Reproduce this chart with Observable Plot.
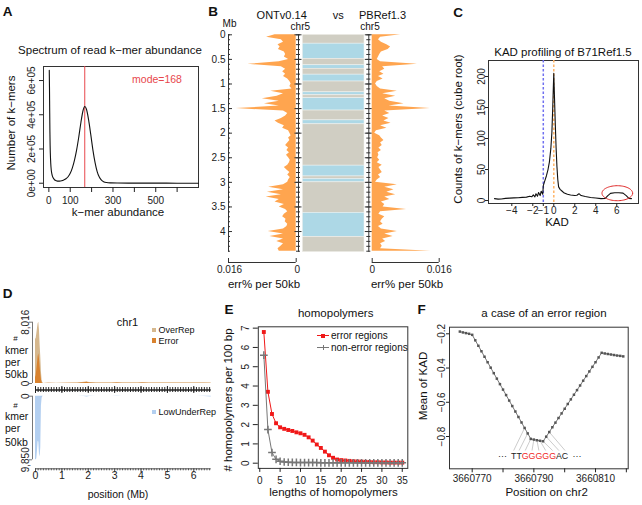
<!DOCTYPE html>
<html><head><meta charset="utf-8">
<script src="https://cdn.jsdelivr.net/npm/d3@7"></script>
<script src="https://cdn.jsdelivr.net/npm/@observablehq/plot@0.6"></script>
<style>
body{margin:0;background:#fff;}
#fig{position:relative;width:642px;height:505px;overflow:hidden;font-family:"Liberation Sans",Arial,sans-serif;color:#111;}
#fig svg.plotsvg{position:absolute;left:0;top:0;}
.t{position:absolute;white-space:nowrap;line-height:1;}
</style></head><body><div id="fig"></div>
<script>
// ================= DATA =================
// A: k-mer spectrum
const spectrumAbundance = [2,3,4,5,6,8,10,13,16,20,25,30,40,50,60,70,80,90,100,110,120,130,140,150,160,168,176,186,196,206,216,226,236,246,256,270,290,320,400,500,600,700];
const spectrumCount = [660000,560000,420000,300000,220000,140000,95000,62000,45000,32000,23000,17000,12500,12000,14000,19000,26000,38000,58000,90000,135000,195000,270000,355000,425000,448000,432000,370000,285000,195000,122000,68000,36000,18000,9000,4000,2000,1000,700,400,200,100];
const spectrumMode = 168;
const aXTicks = [0,100,200,300,400,500,600];
const aXLabeled = [0,100,300,500];
const aYTicks = [0,200000,400000,600000];

// B: error profiles along chr5 (50 kb bins)
const bBinMb = [0,0.05,0.1,0.15,0.2,0.25,0.3,0.35,0.4,0.45,0.5,0.55,0.6,0.65,0.7,0.75,0.8,0.85,0.9,0.95,1,1.05,1.1,1.15,1.2,1.25,1.3,1.35,1.4,1.45,1.5,1.55,1.6,1.65,1.7,1.75,1.8,1.85,1.9,1.95,2,2.05,2.1,2.15,2.2,2.25,2.3,2.35,2.4,2.45,2.5,2.55,2.6,2.65,2.7,2.75,2.8,2.85,2.9,2.95,3,3.05,3.1,3.15,3.2,3.25,3.3,3.35,3.4,3.45,3.5,3.55,3.6,3.65,3.7,3.75,3.8,3.85,3.9,3.95,4,4.05,4.1,4.15,4.2,4.25,4.3,4.35,4.4];
const ontErr = [0.0050,0.0070,0.0035,0.0030,0.0043,0.0038,0.0042,0.0028,0.0025,0.0028,
0.0018,0.0040,0.0114,0.0035,0.0025,0.0032,0.0025,0.0030,0.0020,0.0015,
0.0012,0.0015,0.0010,0.0060,0.0030,0.0045,0.0080,0.0040,0.0075,0.0040,
0.0142,0.0030,0.0020,0.0025,0.0035,0.0050,0.0042,0.0028,0.0032,0.0018,
0.0015,0.0012,0.0018,0.0015,0.0020,0.0025,0.0018,0.0022,0.0016,0.0023,
0.0018,0.0014,0.0016,0.0020,0.0028,0.0022,0.0015,0.0020,0.0014,0.0018,
0.0020,0.0030,0.0065,0.0030,0.0068,0.0035,0.0071,0.0040,0.0050,0.0028,
0.0040,0.0025,0.0020,0.0028,0.0032,0.0024,0.0026,0.0020,0.0022,0.0030,
0.0066,0.0030,0.0062,0.0030,0.0046,0.0030,0.0036,0.0043,0.0040];
const pbErr = [0.0068,0.0020,0.0015,0.0022,0.0035,0.0044,0.0038,0.0022,0.0018,0.0015,
0.0012,0.0020,0.0108,0.0025,0.0030,0.0018,0.0028,0.0015,0.0026,0.0012,
0.0008,0.0012,0.0020,0.0060,0.0025,0.0056,0.0030,0.0042,0.0076,0.0040,
0.0139,0.0030,0.0042,0.0025,0.0040,0.0028,0.0045,0.0020,0.0035,0.0010,
0.0006,0.0018,0.0022,0.0028,0.0020,0.0024,0.0016,0.0022,0.0014,0.0016,
0.0013,0.0018,0.0012,0.0024,0.0016,0.0020,0.0024,0.0015,0.0020,0.0012,
0.0008,0.0060,0.0030,0.0052,0.0035,0.0056,0.0030,0.0042,0.0022,0.0030,
0.0026,0.0082,0.0020,0.0016,0.0030,0.0024,0.0020,0.0026,0.0015,0.0022,
0.0060,0.0030,0.0050,0.0025,0.0032,0.0020,0.0024,0.0020,0.0140];
const chrLen = 4.42;
const errMax = 0.016;
const chrStart = [0,0.18,0.49,0.62,0.69,0.81,0.95,1.17,1.23,1.29,1.54,1.74,1.82,2.66,2.88,2.93,3.00,3.62,4.11];
const chrEnd   = [0.18,0.49,0.62,0.69,0.81,0.95,1.17,1.23,1.29,1.54,1.74,1.82,2.66,2.88,2.93,3.00,3.62,4.11,4.42];
const chrClass = ["gray","blue","gray","blue","gray","blue","gray","blue","gray","blue","gray","blue","gray","blue","gray","blue","gray","blue","gray"];
const mbMajor = [0,0.5,1,1.5,2,2.5,3,3.5,4];

// C: KAD profile
const kadX = [-5.65,-5.3,-5.0,-4.6,-4.2,-3.8,-3.4,-3.0,-2.6,-2.3,-2.1,-1.95,-1.8,-1.7,-1.55,-1.45,-1.3,-1.2,-1.05,-1.0,-0.85,-0.7,-0.55,-0.42,-0.28,-0.18,-0.1,-0.03,0.0,0.06,0.14,0.22,0.3,0.38,0.46,0.6,0.8,1.0,1.3,1.6,2.0,2.2,2.4,2.6,3.0,3.5,4.0,4.5,4.9,5.15,5.4,5.8,6.2,6.6,6.9,7.15,7.4];
const kadY = [3,2.2,2.5,3.5,3.8,4.2,4.5,5,5.5,7,6,9,6,11,7,13,8,15,10,24,32,40,50,62,84,110,150,190,205,170,125,85,55,34,22,18,15,12,10,9,8,8.5,11,8,6.5,5,4,3,3.5,8,11.5,12.5,12.5,12,8,3.5,3];
const cXTicks = [-4,-2,-1,0,2,4,6];
const cYTicks = [0,50,100,150,200];
const kadLower = -1, kadCenter = 0;
const cEllipse = {cx: 6.05, cy: 11.8, rx: 1.46, ry: 12.1};

// D: chr1 k-mer counts per 50kb
const dPos = [0,0.025,0.05,0.075,0.1,0.125,0.15,0.175,0.2,0.225,0.25,0.275,0.3,0.5,0.8,1.2,1.6,1.85,1.95,2.05,2.3,2.6,2.9,3.1,3.3,3.6,3.9,4.05,4.3,4.6,4.9,5.2,5.5,5.8,6.1,6.4,6.66];
const overRep = [5800,5900,6500,7200,7800,8016,7000,5000,3500,1500,400,100,0,40,30,40,60,150,200,120,60,50,60,90,60,70,50,100,60,60,50,60,60,50,60,50,40];
const errorK = [800,1000,1800,2600,3500,3900,3200,2200,1200,500,100,30,0,20,15,20,30,100,160,80,30,25,30,60,30,40,25,70,30,30,25,30,30,25,30,25,20];
const lowUnderRep = [9850,9850,9700,8500,7000,7100,9000,9400,8000,1500,300,100,0,0,0,0,0,30,120,40,0,0,0,30,0,0,0,20,0,0,0,0,0,0,0,30,120];
const dMax = 6.66, dTopMax = 8016, dBotMax = 9850;
const dMajor = [0,1,2,3,4,5,6];

// E: homopolymers
const hpLength = [1,2,3,4,5,6,7,8,9,10,11,12,13,14,15,16,17,18,19,20,21,22,23,24,25,26,27,28,29,30,31,32,33,34,35];
const hpError = [6.8,3.7,2.55,2.07,1.86,1.78,1.72,1.67,1.6,1.55,1.47,1.34,1.17,0.97,0.79,0.6,0.41,0.28,0.19,0.16,0.14,0.12,0.1,0.09,0.08,0.07,0.06,0.05,0.05,0.04,0.04,0.03,0.03,0.03,0.03];
const hpNonError = [5.6,1.74,0.55,0.2,0.1,0.06,0.05,0.04,0.04,0.03,0.03,0.03,0.03,0.03,0.02,0.02,0.02,0.02,0.02,0.02,0.02,0.02,0.02,0.02,0.02,0.02,0.02,0.02,0.02,0.02,0.02,0.02,0.02,0.02,0.02];
const eXTicks = [0,5,10,15,20,25,30,35];
const eYTicks = [0,1,2,3,4,5,6,7];

// F: a case of an error region
const fPos = [3660766,3660767,3660768,3660769,3660770,3660771,3660772,3660773,3660774,3660775,3660776,3660777,3660778,3660779,3660780,3660781,3660782,3660783,3660784,3660785,3660786,3660787,3660788,3660789,3660790,3660791,3660792,3660793,3660794,3660795,3660796,3660797,3660798,3660799,3660800,3660801,3660802,3660803,3660804,3660805,3660806,3660807,3660808,3660809,3660810,3660811,3660812,3660813,3660814,3660815,3660816,3660817,3660818,3660819];
const fKad = [-0.187,-0.192,-0.196,-0.200,-0.206,-0.238,-0.270,-0.302,-0.334,-0.366,-0.398,-0.430,-0.462,-0.494,-0.526,-0.558,-0.590,-0.622,-0.654,-0.686,-0.718,-0.750,-0.782,-0.814,-0.818,-0.822,-0.825,-0.828,-0.801,-0.774,-0.746,-0.719,-0.692,-0.665,-0.638,-0.610,-0.583,-0.556,-0.529,-0.502,-0.474,-0.447,-0.420,-0.393,-0.366,-0.338,-0.311,-0.315,-0.318,-0.321,-0.324,-0.327,-0.329,-0.332];
// sequence annotation: pieces, their anchor positions, and fan lines (one per base)
const seqPieces = ["TT","GGGGG","AC"];
const seqPieceColor = ["#222","#F02828","#222"];
const seqPieceAnchor = ["end","middle","start"];
const seqPiecePos = [3660786.09,3660791.63,3660797.18];
const seqFrom = [3660787,3660788,3660789,3660790,3660791,3660792,3660793,3660794,3660795];
const seqBasePos = [3660783.46,3660785.21,3660787.19,3660789.40,3660791.63,3660793.84,3660796.08,3660798.12,3660800.13];
const seqEllipsisPos = [3660779.8,3660804.0];
const seqLineEnd = -0.882, seqTextY = -0.916;
const fXTicks = [3660770,3660780,3660790,3660800,3660810,3660820];
const fXLabeled = [3660770,3660790,3660810];
const fYTicks = [-0.2,-0.4,-0.6,-0.8];

// ================= HELPERS =================
const W = 642, H = 505;
const FONT = '"Liberation Sans", Arial, sans-serif';
const fig = document.getElementById("fig");
const AX = "#333";
function panel(fr, opts) {
  const svg = Plot.plot({
    width: W, height: H,
    marginLeft: fr[0], marginRight: W - fr[1], marginTop: fr[2], marginBottom: H - fr[3],
    style: {fontFamily: FONT, fontSize: "10px", background: "transparent", overflow: "visible", color: "#222"},
    ...opts
  });
  svg.classList.add("plotsvg");
  fig.appendChild(svg);
}
function label(text, x, y, o = {}) {
  const d = document.createElement("div");
  d.className = "t";
  d.textContent = text;
  d.style.left = x + "px"; d.style.top = y + "px";
  d.style.fontSize = (o.size || 11.5) + "px";
  d.style.color = o.color || "#111";
  if (o.bold) d.style.fontWeight = "bold";
  const tx = o.anchor === "start" ? "0" : "-50%";
  d.style.transform = `translate(${tx},-50%)` + (o.rot ? ` rotate(${o.rot}deg)` : "");
  if (o.rot) d.style.transformOrigin = "50% 50%";
  fig.appendChild(d);
}
function swatch(x, y, s, color) {
  const d = document.createElement("div");
  d.style.cssText = `position:absolute;left:${x - s/2}px;top:${y - s/2}px;width:${s}px;height:${s}px;background:${color};`;
  fig.appendChild(d);
}

// ================= PANEL A =================
const spectrum = spectrumAbundance.map((a, i) => ({a, c: spectrumCount[i]}));
const sciFmt = d => d === 0 ? "0e+00" : (d / 1e5) + "e+05";
panel([43, 198, 66, 187], {
  x: {domain: [-25, 700]}, y: {domain: [-25000, 682000]},
  marks: [
    Plot.frame({stroke: AX}),
    Plot.ruleX([spectrumMode], {stroke: "#E8474C", strokeWidth: 1}),
    Plot.line(spectrum, {x: "a", y: "c", stroke: "#111", strokeWidth: 1.1, curve: "monotone-x"}),
    Plot.axisX({ticks: aXTicks, tickSize: 5, tickPadding: 4, tickFormat: d => aXLabeled.includes(d) ? String(d) : "", label: null}),
    Plot.axisY({ticks: aYTicks, tickSize: 4, tickPadding: 5, tickRotate: -90, tickFormat: sciFmt, label: null})
  ]
});

// ================= PANEL B =================
const mbMinor = d3.range(0, 4.41, 0.1);
const ontTable = bBinMb.map((mb, i) => ({mb, v: ontErr[i]}));
const pbTable = bBinMb.map((mb, i) => ({mb, v: pbErr[i]}));
const chrSegments = chrStart.map((s, i) => ({start: s, end: chrEnd[i], cls: chrClass[i]}));
const ORANGE = "#FFA54F";
const bAxisDy = 10.3;
// left profile + Mb axis
panel([228, 295.7, 34.3, 251.7], {
  x: {domain: [errMax, 0], axis: null}, y: {domain: [0, chrLen], reverse: true},
  marks: [
    Plot.areaX(ontTable, {y: "mb", x: "v", fill: ORANGE}),
    Plot.ruleX([errMax], {stroke: AX}),
    Plot.ruleY(mbMinor, {y: d => d, x1: errMax, x2: errMax, insetRight: -2, stroke: AX}),
    Plot.ruleY(mbMajor, {y: d => d, x1: errMax, x2: errMax, insetRight: -4, stroke: AX}),
    Plot.axisY({ticks: mbMajor, tickSize: 0, tickPadding: 3, tickFormat: d => String(d), label: null}),
    Plot.ruleY([chrLen], {dy: bAxisDy, stroke: AX}),
    Plot.ruleX([errMax, 0], {y1: chrLen, y2: chrLen, dy: bAxisDy, insetTop: -4, stroke: AX}),
    Plot.text([errMax, 0], {x: d => d, frameAnchor: "bottom", dy: 21, dx: 1, text: d => String(d), fontSize: 10})
  ]
});
// chromosome band
const chrTicks = (xv, list, len) => Plot.ruleY(list, {y: d => d, x1: xv, x2: xv, insetLeft: -len, insetRight: -len, stroke: AX});
panel([298, 368.3, 34.3, 251.7], {
  x: {domain: [0, 1], axis: null}, y: {domain: [0, chrLen], reverse: true, axis: null},
  marks: [
    Plot.rect(chrSegments, {y1: "start", y2: "end", fill: d => d.cls === "blue" ? "#ADD8E6" : "#D0CEC3", insetLeft: 4.3, insetRight: 4.3, stroke: "#f4f4f0", strokeWidth: 0.5}),
    Plot.ruleX([0, 1], {stroke: AX}),
    chrTicks(0, mbMinor, 2), chrTicks(0, mbMajor, 3.5),
    chrTicks(1, mbMinor, 2), chrTicks(1, mbMajor, 3.5)
  ]
});
// right profile
panel([371.7, 438.7, 34.3, 251.7], {
  x: {domain: [0, errMax], axis: null}, y: {domain: [0, chrLen], reverse: true, axis: null},
  marks: [
    Plot.areaX(pbTable, {y: "mb", x: "v", fill: ORANGE}),
    Plot.ruleY([chrLen], {dy: bAxisDy, stroke: AX}),
    Plot.ruleX([0, errMax], {y1: chrLen, y2: chrLen, dy: bAxisDy, insetTop: -4, stroke: AX}),
    Plot.text([0, errMax], {x: d => d, frameAnchor: "bottom", dy: 21, text: d => String(d), fontSize: 10})
  ]
});

// ================= PANEL C =================
const kadTable = kadX.map((x, i) => ({x, y: kadY[i]}));
const ellipsePts = d3.range(0, 73).map(k => {
  const t = k / 72 * 2 * Math.PI;
  return {x: cEllipse.cx + cEllipse.rx * Math.cos(t), y: cEllipse.cy + cEllipse.ry * Math.sin(t)};
});
panel([488, 638, 60, 203], {
  x: {domain: [-6.22, 8.07]}, y: {domain: [-4.8, 225.8]},
  marks: [
    Plot.frame({stroke: AX}),
    Plot.ruleX([kadLower], {stroke: "#7070F0", strokeDasharray: "2.5,2", strokeWidth: 1.5}),
    Plot.ruleX([kadCenter], {stroke: "#FFB466", strokeDasharray: "2.5,2", strokeWidth: 1.5}),
    Plot.line(kadTable, {x: "x", y: "y", stroke: "#111", strokeWidth: 1.1}),
    Plot.line(ellipsePts, {x: "x", y: "y", stroke: "#E02828", strokeWidth: 1}),
    Plot.axisX({ticks: cXTicks, tickSize: 3, tickPadding: 0, label: null}),
    Plot.axisY({ticks: cYTicks, tickSize: 3, tickPadding: 1, tickRotate: -90, label: null})
  ]
});

// ================= PANEL D =================
const dTable = dPos.map((pos, i) => ({pos, over: overRep[i], err: errorK[i], low: lowUnderRep[i]}));
const dMinor = d3.range(0, 6.61, 0.1);
panel([35, 210.7, 321.7, 383], {
  x: {domain: [0, dMax], axis: null}, y: {domain: [0, dTopMax]},
  marks: [
    Plot.areaY(dTable, {x: "pos", y: "over", fill: "#D6B88E"}),
    Plot.areaY(dTable, {x: "pos", y: "err", fill: "#D9822E"}),
    Plot.ruleX([0], {y1: 0, y2: dTopMax, dx: -3, stroke: "#777"}),
    Plot.axisY({ticks: [0, dTopMax], tickSize: 3, tickPadding: 1, tickRotate: -90, dx: -3, stroke: "#777", label: null}),
    Plot.ruleY([0], {dy: 6.5, stroke: "#222", strokeWidth: 1.4}),
    Plot.ruleX(dMinor, {x: d => d, y1: 0, y2: 0, dy: 6.5, insetTop: -2.5, insetBottom: -2.5, stroke: "#222"}),
    Plot.ruleX(dMajor, {x: d => d, y1: 0, y2: 0, dy: 6.5, insetTop: -3.5, insetBottom: -3.5, stroke: "#222"})
  ]
});
panel([35, 210.7, 395.7, 459.3], {
  x: {domain: [0, dMax], axis: null}, y: {domain: [0, dBotMax], reverse: true},
  marks: [
    Plot.areaY(dTable, {x: "pos", y: "low", fill: "#B3CFF0"}),
    Plot.ruleX([0], {y1: 0, y2: dBotMax, dx: -3, stroke: "#777"}),
    Plot.axisY({ticks: [0, dBotMax], tickSize: 3, tickPadding: 1, tickRotate: -90, dx: -3, stroke: "#777", label: null}),
    Plot.ruleY([dBotMax], {dy: 9, stroke: "#555"}),
    Plot.ruleX(dMinor, {x: d => d, y1: dBotMax, y2: dBotMax, dy: 9, insetBottom: -2, stroke: "#555"}),
    Plot.ruleX(dMajor, {x: d => d, y1: dBotMax, y2: dBotMax, dy: 9, insetBottom: -4, stroke: "#555"}),
    Plot.text(dMajor, {x: d => d, frameAnchor: "bottom", dy: 19, text: d => String(d), fontSize: 10.5})
  ]
});

// ================= PANEL E =================
const hpTable = hpLength.map((len, i) => ({len, err: hpError[i], non: hpNonError[i]}));
panel([257.8, 407.3, 326.3, 467.9], {
  x: {domain: [-0.36, 36.36]}, y: {domain: [-0.27, 7.07]},
  marks: [
    Plot.frame({stroke: AX}),
    Plot.line(hpTable, {x: "len", y: "err", stroke: "#F01818", strokeWidth: 1}),
    Plot.dot(hpTable, {x: "len", y: "err", symbol: "square", fill: "#F01818", r: 2.2}),
    Plot.line(hpTable, {x: "len", y: "non", stroke: "#777", strokeWidth: 1}),
    Plot.dot(hpTable, {x: "len", y: "non", symbol: "plus", stroke: "#777", r: 2.6}),
    Plot.axisX({ticks: eXTicks, tickSize: 4, tickPadding: 4, label: null}),
    Plot.axisY({ticks: eYTicks, tickSize: 5, tickPadding: 4, tickRotate: -90, label: null})
  ]
});

// ================= PANEL F =================
const fTable = fPos.map((pos, i) => ({pos, kad: fKad[i]}));
const fanTable = seqFrom.map((from, i) => ({from, fromY: fKad[fPos.indexOf(from)], to: seqBasePos[i]}));
const pieceTable = seqPieces.map((text, i) => ({text, pos: seqPiecePos[i], color: seqPieceColor[i], anchor: seqPieceAnchor[i]}));
panel([449, 627.7, 326.7, 468.3], {
  x: {domain: [3660762.64, 3660820.6]}, y: {domain: [-0.9887, -0.1614]},
  marks: [
    Plot.frame({stroke: AX}),
    Plot.link(fanTable, {x1: "from", y1: "fromY", x2: "to", y2: seqLineEnd, stroke: "#aaa", strokeWidth: 0.6}),
    Plot.line(fTable, {x: "pos", y: "kad", stroke: "#777", strokeWidth: 1}),
    Plot.dot(fTable, {x: "pos", y: "kad", symbol: "square", fill: "#555", r: 1.4}),
    ...pieceTable.map(p => Plot.text([p], {x: "pos", y: seqTextY, text: "text", fill: p.color, textAnchor: p.anchor, fontSize: 8.8})),
    Plot.text(seqEllipsisPos, {x: d => d, y: seqTextY, text: () => "···", fill: "#222", fontSize: 9}),
    Plot.axisX({ticks: fXTicks, tickSize: 4, tickPadding: 2, tickFormat: d => fXLabeled.includes(d) ? String(d) : "", label: null}),
    Plot.axisY({ticks: fYTicks, tickSize: 3, tickPadding: 2, tickRotate: -90, label: null})
  ]
});

// ================= TEXT =================
// panel letters
label("A", 7.5, 12, {size: 13.5, bold: true});
label("B", 213, 12, {size: 13.5, bold: true});
label("C", 458, 12.5, {size: 13.5, bold: true});
label("D", 7.5, 293.5, {size: 13.5, bold: true});
label("E", 229, 310, {size: 13.5, bold: true});
label("F", 421.7, 309.5, {size: 13.5, bold: true});
// A
label("Spectrum of read k\u2212mer abundance", 110, 51);
label("Number of k\u2212mers", 12, 123, {rot: -90});
label("k\u2212mer abundance", 118, 213);
label("mode=168", 157, 79, {size: 10.5, color: "#E8474C"});
// B
label("ONTv0.14", 281.7, 14.7, {size: 11});
label("vs", 338.3, 14.7, {size: 11});
label("PBRef1.3", 382.5, 14.7, {size: 11});
label("chr5", 300.3, 26.5, {size: 10});
label("chr5", 370, 26.5, {size: 10});
label("Mb", 229.5, 24, {size: 10});
label("err% per 50kb", 264, 285);
label("err% per 50kb", 407, 285);
// C
label("KAD profiling of B71Ref1.5", 563, 52.5);
label("Counts of k\u2212mers (cube root)", 459, 129, {rot: -90});
label("KAD", 557, 222.8);
// D
label("chr1", 127.5, 322, {size: 11});
label("#", 15.5, 339, {size: 8});
label("kmer", 5, 349.5, {size: 10.5, anchor: "start"});
label("per", 5, 361.7, {size: 10.5, anchor: "start"});
label("50kb", 5, 374, {size: 10.5, anchor: "start"});
label("#", 15.5, 405.7, {size: 8});
label("kmer", 5, 416.2, {size: 10.5, anchor: "start"});
label("per", 5, 428.3, {size: 10.5, anchor: "start"});
label("50kb", 5, 441.7, {size: 10.5, anchor: "start"});
swatch(154, 330, 4.5, "#D6B88E"); label("OverRep", 158.5, 330, {size: 9, anchor: "start"});
swatch(154, 340.7, 4.5, "#D9822E"); label("Error", 158.5, 340.7, {size: 9, anchor: "start"});
swatch(154, 412, 4.5, "#B3CFF0"); label("LowUnderRep", 158.5, 412, {size: 9, anchor: "start"});
label("position (Mb)", 118, 494, {size: 10.5});
// E
label("homopolymers", 335.7, 314);
label("# homopolymers per 100 bp", 229, 400, {rot: -90});
label("lengths of homopolymers", 333.5, 492.7);
(function () {
  const l1 = document.createElement("div");
  l1.style.cssText = "position:absolute;left:316.7px;top:335.2px;width:12.6px;height:1px;background:#F01818;";
  fig.appendChild(l1);
  swatch(323, 335.7, 4, "#F01818");
  const l2 = document.createElement("div");
  l2.style.cssText = "position:absolute;left:316.7px;top:347.2px;width:12.6px;height:1px;background:#777;";
  fig.appendChild(l2);
  const p = document.createElement("div");
  p.style.cssText = "position:absolute;left:320.5px;top:344.7px;width:5px;height:5px;";
  p.innerHTML = '<div style="position:absolute;left:2px;top:0;width:1px;height:5px;background:#777"></div>';
  fig.appendChild(p);
})();
label("error regions", 331, 335.7, {size: 10, anchor: "start"});
label("non-error regions", 331, 347.7, {size: 10, anchor: "start"});
// F
label("a case of an error region", 544, 314);
label("Mean of KAD", 423.5, 386, {rot: -90});
label("Position on chr2", 546.7, 492.7);
</script></body></html>
